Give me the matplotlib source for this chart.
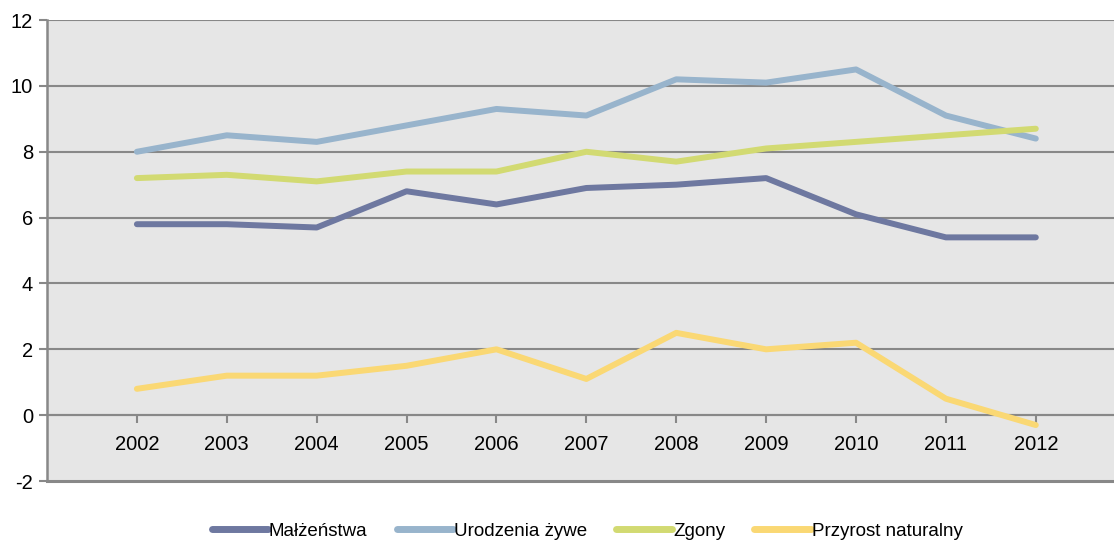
import matplotlib.pyplot as plt

plt.rcParams['font.family'] = ['Liberation Sans', 'DejaVu Sans']
plt.rcParams['axes.unicode_minus'] = False

# data
years = ['2002', '2003', '2004', '2005', '2006', '2007', '2008', '2009', '2010', '2011', '2012']
malzenstwa = [5.8, 5.8, 5.7, 6.8, 6.4, 6.9, 7.0, 7.2, 6.1, 5.4, 5.4]
urodzenia = [8.0, 8.5, 8.3, 8.8, 9.3, 9.1, 10.2, 10.1, 10.5, 9.1, 8.4]
zgony = [7.2, 7.3, 7.1, 7.4, 7.4, 8.0, 7.7, 8.1, 8.3, 8.5, 8.7]
przyrost = [0.8, 1.2, 1.2, 1.5, 2.0, 1.1, 2.5, 2.0, 2.2, 0.5, -0.3]

labels = ['Małżeństwa', 'Urodzenia żywe', 'Zgony', 'Przyrost naturalny']
colors = ['#6e78a0', '#98b4cc', '#d2da72', '#fad874']
series = [malzenstwa, urodzenia, zgony, przyrost]

fig = plt.figure(figsize=(11.14, 5.42), dpi=100)
ax = fig.add_axes([0.0422, 0.1125, 0.9578, 0.8505])
ax.set_facecolor('#e6e6e6')

x = list(range(len(years)))
for s, c, lab in zip(series, colors, labels):
    ax.plot(x, s, color=c, lw=4.3, label=lab, solid_capstyle='round',
            solid_joinstyle='round', zorder=3)

ax.set_xlim(-1, 10.87)
ax.set_ylim(-2, 12)
ax.set_yticks(range(-2, 13, 2))
ax.set_xticks(x)
ax.set_xticklabels(years)

gc = '#888888'
for yv in range(0, 13, 2):
    ax.axhline(yv, color=gc, lw=1.5, zorder=1)
ax.axhline(-2, color=gc, lw=2.2, zorder=1, clip_on=False)

for sp in ['top', 'right']:
    ax.spines[sp].set_visible(False)
ax.spines['left'].set_color(gc)
ax.spines['left'].set_linewidth(1.8)
ax.spines['bottom'].set_position(('data', 0))
ax.spines['bottom'].set_color(gc)
ax.spines['bottom'].set_linewidth(1.5)

ax.tick_params(axis='y', colors=gc, length=6, width=1.5, labelcolor='black',
               labelsize=14.5, pad=4)
ax.tick_params(axis='x', colors=gc, length=6, width=1.5, labelcolor='black',
               labelsize=14.5, pad=8)

leg = fig.legend(loc='center', ncol=4, frameon=False, fontsize=13.5,
                 handlelength=3.0, handletextpad=0.05, columnspacing=1.55,
                 bbox_to_anchor=(0.527, 0.02))
for h in leg.get_lines():
    h.set_linewidth(5)

fig.savefig('out.png', dpi=100)
